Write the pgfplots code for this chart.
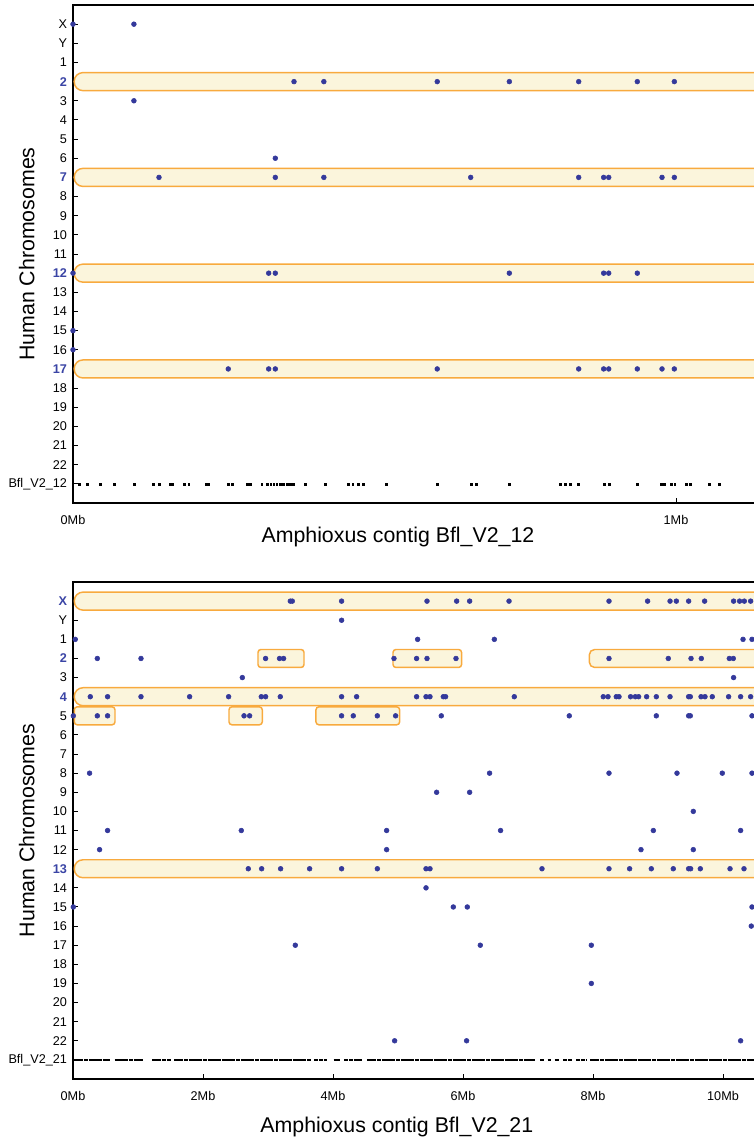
\documentclass[border=0pt]{standalone}
\usepackage{pgfplots}
\pgfplotsset{compat=1.18}
\usepackage{fontspec}
\setmainfont{Liberation Sans}

\definecolor{dotblue}{RGB}{52,57,155}
\definecolor{hlblue}{RGB}{58,68,165}
\definecolor{bandfill}{RGB}{251,245,220}
\definecolor{bandedge}{RGB}{248,170,62}

\newcommand{\hl}[1]{\textcolor{hlblue}{\bfseries #1}}

% 1px of the reference = 0.75pt
\pgfplotsset{
  chromaxis/.style={
    scale only axis,
    width=513pt,
    y dir=reverse,
    ymin=-1, ymax=25,
    axis line style={line width=1.3pt, black},
    tick align=inside,
    xtick pos=left, ytick pos=left,
    major tick length=3.75pt,
    tick style={black, line width=0.75pt},
    ytick={0,...,24},
    tick label style={font=\fontsize{9.5}{11}\selectfont},
    yticklabel style={xshift=-1pt},
    xticklabel style={yshift=-5.5pt},
    label style={font=\fontsize{16}{19}\selectfont},
    ylabel style={at={(axis description cs:-0.0676,0.5)}, anchor=center},
  },
  band/.style={draw=bandedge, fill=bandfill, line width=1.1pt, rounded corners=6.5pt, mark=none},
  smallbox/.style={draw=bandedge, fill=bandfill, line width=1.1pt, rounded corners=2.2pt, mark=none},
  hits/.style={only marks, mark=*, mark size=1.8pt, color=dotblue},
  genes/.style={only marks, mark=square*, mark size=0.7pt, color=black},
}

\begin{document}
\begin{tikzpicture}

% ---------------- top panel: Bfl_V2_12 ----------------
\begin{axis}[
  chromaxis,
  at={(54.75pt,-3.75pt)}, anchor=north west,
  height=373.5pt,
  xmin=0, xmax=1.1343,
  xtick={0,1}, xticklabels={0Mb,1Mb},
  yticklabels={X,Y,1,\hl{2},3,4,5,6,\hl{7},8,9,10,11,\hl{12},13,14,15,16,\hl{17},18,19,20,21,22,Bfl\_V2\_12},
  xlabel={Amphioxus contig Bfl\_V2\_12},
  xlabel style={at={(axis description cs:0.475,-0.0683)}, anchor=center},
  ylabel={Human Chromosomes},
]
\addplot[band] coordinates {(0.002,2.53) (1.3,2.53) (1.3,3.47) (0.002,3.47)} -- cycle;
\addplot[band] coordinates {(0.002,7.53) (1.3,7.53) (1.3,8.47) (0.002,8.47)} -- cycle;
\addplot[band] coordinates {(0.002,12.53) (1.3,12.53) (1.3,13.47) (0.002,13.47)} -- cycle;
\addplot[band] coordinates {(0.002,17.53) (1.3,17.53) (1.3,18.47) (0.002,18.47)} -- cycle;

\addplot[hits] coordinates {
  (0,0) (0.101,0)
  (0.3665,3) (0.416,3) (0.604,3) (0.7236,3) (0.8386,3) (0.9358,3) (0.9972,3)
  (0.101,4)
  (0.3355,7)
  (0.1426,8) (0.3355,8) (0.416,8) (0.6595,8) (0.8386,8) (0.880,8) (0.8884,8) (0.9768,8) (0.9972,8)
  (0,13) (0.3245,13) (0.3355,13) (0.7236,13) (0.880,13) (0.8884,13) (0.9358,13)
  (0,16) (0,17)
  (0.2575,18) (0.3245,18) (0.3355,18) (0.604,18) (0.8386,18) (0.880,18) (0.8884,18) (0.9358,18) (0.9768,18) (0.9972,18)
};

\addplot[genes] coordinates {
  (0.010,24) (0.023,24) (0.045,24) (0.068,24) (0.101,24) (0.133,24) (0.143,24) (0.161,24)
  (0.164,24) (0.184,24) (0.192,24) (0.221,24) (0.224,24) (0.257,24) (0.264,24) (0.289,24)
  (0.294,24) (0.313,24) (0.322,24) (0.328,24) (0.333,24) (0.338,24) (0.343,24) (0.348,24)
  (0.355,24) (0.360,24) (0.365,24) (0.385,24) (0.418,24) (0.456,24) (0.464,24) (0.473,24)
  (0.481,24) (0.520,24) (0.604,24) (0.661,24) (0.669,24) (0.723,24) (0.808,24) (0.816,24)
  (0.824,24) (0.838,24) (0.881,24) (0.890,24) (0.936,24) (0.976,24) (0.980,24) (0.992,24)
  (0.998,24) (1.017,24) (1.023,24) (1.055,24) (1.072,24)
};
\end{axis}

% ---------------- bottom panel: Bfl_V2_21 ----------------
\begin{axis}[
  chromaxis,
  at={(54.75pt,-436.5pt)}, anchor=north west,
  height=372.75pt,
  xmin=0, xmax=10.523,
  xtick={0,2,4,6,8,10}, xticklabels={0Mb,2Mb,4Mb,6Mb,8Mb,10Mb},
  yticklabels={\hl{X},Y,1,\hl{2},3,\hl{4},5,6,7,8,9,10,11,12,\hl{13},14,15,16,17,18,19,20,21,22,Bfl\_V2\_21},
  xlabel={Amphioxus contig Bfl\_V2\_21},
  xlabel style={at={(axis description cs:0.4735,-0.0966)}, anchor=center},
  ylabel={Human Chromosomes},
]
% long conserved blocks
\addplot[band] coordinates {(0.02,-0.47) (12,-0.47) (12,0.47) (0.02,0.47)} -- cycle;
\addplot[band] coordinates {(0.02,4.53) (12,4.53) (12,5.47) (0.02,5.47)} -- cycle;
\addplot[band] coordinates {(0.02,13.53) (12,13.53) (12,14.47) (0.02,14.47)} -- cycle;
% short blocks
\addplot[smallbox] coordinates {(2.846,2.53) (3.554,2.53) (3.554,3.47) (2.846,3.47)} -- cycle;
\addplot[smallbox] coordinates {(4.923,2.53) (5.978,2.53) (5.978,3.47) (4.923,3.47)} -- cycle;
\addplot[smallbox, rounded corners=4pt] coordinates {(7.943,2.53) (12,2.53) (12,3.47) (7.943,3.47)} -- cycle;
\addplot[smallbox] coordinates {(0.02,5.53) (0.646,5.53) (0.646,6.47) (0.02,6.47)} -- cycle;
\addplot[smallbox] coordinates {(2.40,5.53) (2.912,5.53) (2.912,6.47) (2.40,6.47)} -- cycle;
\addplot[smallbox] coordinates {(3.738,5.53) (5.025,5.53) (5.025,6.47) (3.738,6.47)} -- cycle;

\addplot[hits] coordinates {
  (3.343,0) (3.374,0) (4.132,0) (5.446,0) (5.902,0) (6.102,0) (6.708,0) (8.246,0) (8.840,0)
  (9.185,0) (9.282,0) (9.471,0) (9.717,0) (10.163,0) (10.255,0) (10.328,0) (10.425,0)
  (4.132,1)
  (0.035,2) (5.302,2) (6.482,2) (10.308,2) (10.446,2)
  (0.374,3) (1.046,3) (2.963,3) (3.178,3) (3.240,3) (4.938,3) (5.286,3) (5.446,3) (5.892,3)
  (8.246,3) (9.158,3) (9.508,3) (9.666,3) (10.097,3) (10.158,3)
  (2.605,4) (10.163,4)
  (0.266,5) (0.532,5) (1.046,5) (1.794,5) (2.394,5) (2.897,5) (2.963,5) (3.189,5) (4.132,5)
  (4.363,5) (5.286,5) (5.431,5) (5.492,5) (5.697,5) (5.732,5) (6.789,5) (8.158,5) (8.231,5)
  (8.358,5) (8.400,5) (8.578,5) (8.651,5) (8.702,5) (8.825,5) (8.974,5) (9.185,5) (9.471,5)
  (9.497,5) (9.662,5) (9.723,5) (9.835,5) (10.086,5) (10.271,5) (10.425,5)
  (0.005,6) (0.374,6) (0.532,6) (2.631,6) (2.717,6) (4.132,6) (4.312,6) (4.682,6) (4.963,6)
  (5.666,6) (7.635,6) (8.974,6) (9.471,6) (9.497,6) (10.446,6)
  (0.255,9) (6.409,9) (8.246,9) (9.292,9) (9.989,9) (10.446,9)
  (5.594,10) (6.102,10)
  (9.543,11)
  (0.532,12) (2.589,12) (4.825,12) (6.578,12) (8.928,12) (10.271,12)
  (0.409,13) (4.825,13) (8.738,13) (9.543,13)
  (2.697,14) (2.902,14) (3.194,14) (3.640,14) (4.132,14) (4.682,14) (5.431,14) (5.492,14)
  (7.215,14) (8.246,14) (8.563,14) (8.897,14) (9.235,14) (9.471,14) (9.502,14) (9.651,14)
  (10.108,14) (10.323,14)
  (5.431,15)
  (0.005,16) (5.851,16) (6.066,16) (10.446,16)
  (10.435,17)
  (3.420,18) (6.266,18) (7.974,18)
  (7.974,20)
  (4.948,23) (6.055,23) (10.271,23)
};

% gene track of the contig: dense runs of genes
\addplot[black, line width=1.5pt, dash pattern=on 3.2pt off 0.35pt, mark=none, unbounded coords=jump] coordinates {
  (0.02,24) (0.57,24) (0.60,nan)
  (0.64,24) (1.07,24) (1.10,nan)
  (1.22,24) (1.51,24) (1.53,nan)
  (1.56,24) (3.67,24) (3.69,nan)
  (3.71,24) (3.91,24) (3.95,nan)
  (4.01,24) (4.10,24) (4.13,nan)
  (4.17,24) (4.44,24) (4.48,nan)
  (4.53,24) (7.11,24) (7.15,nan)
  (7.19,24) (7.24,24) (7.26,nan)
  (7.30,24) (7.35,24) (7.37,nan)
  (7.41,24) (7.47,24) (7.50,nan)
  (7.54,24) (7.68,24) (7.71,nan)
  (7.74,24) (7.90,24) (7.93,nan)
  (7.96,24) (10.52,24)
};
\end{axis}

\pgfresetboundingbox
\path[use as bounding box] (0pt,0pt) rectangle (564.75pt,-853.5pt);
\end{tikzpicture}
\end{document}
